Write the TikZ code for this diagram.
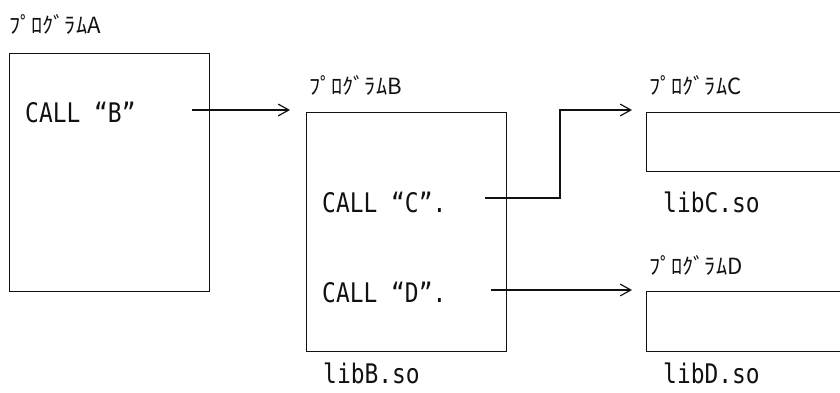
\documentclass[tikz,border=0pt]{standalone}
\usepackage{fontspec}
\usepackage{tikz}
\usetikzlibrary{arrows.meta,positioning}
\newfontfamily\jpfont{Noto Sans CJK JP}
\newfontfamily\codefont[FakeStretch=0.85]{DejaVu Sans Mono}
\definecolor{cbInk}{HTML}{111111}
\tikzset{
  progbox/.style={draw=cbInk,line width=1.2pt,inner sep=0pt,anchor=north west},
  proglabel/.style={font=\jpfont\fontsize{19}{22}\selectfont,text=cbInk,inner sep=0pt,anchor=west},
  codetext/.style={font=\codefont\fontsize{23}{26}\selectfont,text=cbInk,inner sep=0pt,anchor=base west},
  callarrow/.style={draw=cbInk,line width=1pt,-{Straight Barb[length=9pt,width=10pt]}}
}
\begin{document}
\begin{tikzpicture}[x=0.03cm,y=-0.03cm]
  \useasboundingbox (0,0) rectangle (840,392);
  \clip (0,0) rectangle (840,392);
  % program boxes
  \node[progbox,minimum width=6cm,minimum height=7.14cm] (progA) at (9,53) {};
  \node[progbox,minimum width=6cm,minimum height=7.17cm] (progB) at (306,112) {};
  \node[progbox,minimum width=6.6cm,minimum height=1.77cm] (progC) at (646,112) {};
  \node[progbox,minimum width=6.6cm,minimum height=1.8cm] (progD) at (646,291) {};
  % program names
  \node[proglabel] (nameA) at (9,24) {ﾌﾟﾛｸﾞﾗﾑA};
  \node[proglabel] (nameB) at (309,85) {ﾌﾟﾛｸﾞﾗﾑB};
  \node[proglabel] (nameC) at (649,85) {ﾌﾟﾛｸﾞﾗﾑC};
  \node[proglabel] (nameD) at (649,265) {ﾌﾟﾛｸﾞﾗﾑD};
  % calls
  \node[codetext] (callB) at (25,122) {CALL “B”};
  \node[codetext] (callC) at (322,212) {CALL “C”.};
  \node[codetext] (callD) at (322,302) {CALL “D”.};
  % libraries
  \node[codetext] (libB) at (323,383) {libB.so};
  \node[codetext] (libC) at (663,212) {libC.so};
  \node[codetext] (libD) at (663,383) {libD.so};
  % connectors
  \coordinate (outB) at (192,110);
  \coordinate (inB) at (290,110);
  \coordinate (outC) at (485,198);
  \coordinate (turnC) at (560,110);
  \coordinate (inC) at (632,110);
  \coordinate (outD) at (491,290);
  \coordinate (inD) at (632,290);
  \draw[callarrow] (outB) -- (inB);
  \draw[callarrow] (outC) -| (turnC) -- (inC);
  \draw[callarrow] (outD) -- (inD);
\end{tikzpicture}
\end{document}
